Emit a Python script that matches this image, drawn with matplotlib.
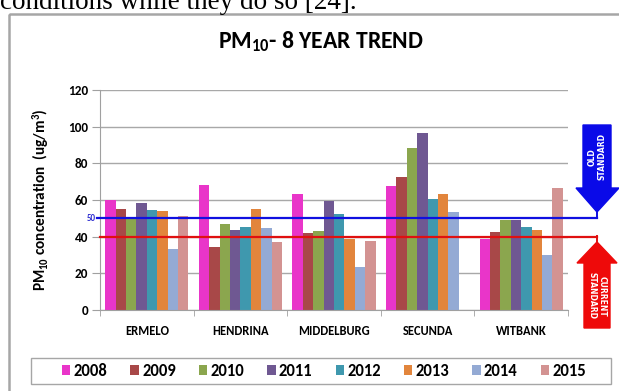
import numpy as np
import matplotlib
matplotlib.use("Agg")
import matplotlib.pyplot as plt
from matplotlib.patches import Polygon, Rectangle

plt.rcParams["font.family"] = ["Carlito", "DejaVu Sans"]
plt.rcParams["mathtext.default"] = "regular"

TOWNS = ["ERMELO", "HENDRINA", "MIDDELBURG", "SECUNDA", "WITBANK"]
YEARS = ["2008", "2009", "2010", "2011", "2012", "2013", "2014", "2015"]

# PM10 annual means per town, one list per year (ug/m3); Secunda has no 2015 value
PM10_2008 = [60.0, 68.4, 63.3, 67.8, 38.9]
PM10_2009 = [55.1, 34.5, 42.0, 72.5, 42.7]
PM10_2010 = [50.9, 46.9, 43.3, 88.2, 49.3]
PM10_2011 = [58.2, 43.8, 59.6, 96.7, 49.3]
PM10_2012 = [54.5, 45.1, 52.2, 60.7, 45.5]
PM10_2013 = [54.0, 55.3, 38.9, 63.3, 43.6]
PM10_2014 = [33.1, 44.7, 23.5, 53.5, 30.2]
PM10_2015 = [51.1, 37.1, 37.6, np.nan, 66.5]

OLD_STANDARD = 50
CURRENT_STANDARD = 40

YEAR_COLORS = ["#E935C9", "#A84848", "#8BA64E", "#6F5892", "#3F98AE",
               "#E2853C", "#94AAD4", "#D39392"]

series = [PM10_2008, PM10_2009, PM10_2010, PM10_2011,
          PM10_2012, PM10_2013, PM10_2014, PM10_2015]

W, H = 619, 391
fig = plt.figure(figsize=(W / 100, H / 100), dpi=100)

# overlay in pixel coordinates for the page frame, legend box and arrows
ov = fig.add_axes([0, 0, 1, 1], zorder=0)
ov.set_xlim(0, W)
ov.set_ylim(H, 0)
ov.axis("off")

ov.text(0, 9, "conditions while they do so [24].", fontsize=19.5,
        family="Liberation Serif", va="baseline", ha="left")
ov.add_patch(Rectangle((9, 14), W, H, fill=False, edgecolor="#A6A6A6", lw=1.8))
ov.add_patch(Rectangle((31, 358), 580, 26, fill=False, edgecolor="#A6A6A6", lw=1.0))

ax = fig.add_axes([100 / W, 1 - 310 / H, 468 / W, 220 / H], zorder=1)
ax.patch.set_alpha(0)

x = np.arange(len(TOWNS))
bw = 0.111
for i, (vals, year, col) in enumerate(zip(series, YEARS, YEAR_COLORS)):
    ax.bar(x + (i - 3.5) * bw, vals, width=bw, color=col, label=year, zorder=2)

ax.set_xlim(-0.5, len(TOWNS) - 0.5)
ax.set_ylim(0, 120)
ax.set_yticks(range(0, 121, 20))
ax.set_yticklabels([str(v) for v in range(0, 121, 20)], fontweight="bold", fontsize=9.5)
ax.set_xticks(x)
ax.set_xticklabels(TOWNS, fontweight="bold", fontsize=9)
ax.set_xticks(np.arange(-0.5, len(TOWNS)), minor=True)
ax.tick_params(axis="x", which="major", length=0, pad=11)
ax.tick_params(axis="x", which="minor", length=4, color="#A0A0A0")
ax.tick_params(axis="y", length=5.5, color="#A0A0A0", pad=3)
ax.grid(axis="y", color="#A8A8A8", lw=1.0, zorder=0)
for side in ("top", "right"):
    ax.spines[side].set_visible(False)
for side in ("left", "bottom"):
    ax.spines[side].set_color("#A0A0A0")

ax.set_ylabel("PM$_{10}$ concentration  (ug/m$^3$)", fontweight="bold",
              fontsize=11, labelpad=12)

# standard lines run out past the plot to the arrows
ytr = ax.get_yaxis_transform()
ax.plot([-0.006, 1.062], [OLD_STANDARD] * 2, color="#1010E0", lw=1.6,
        transform=ytr, clip_on=False, zorder=3)
ax.plot([0, 1.062], [CURRENT_STANDARD] * 2, color="#E01010", lw=1.6,
        transform=ytr, clip_on=False, zorder=3)
ax.text(-0.008, OLD_STANDARD, str(OLD_STANDARD), transform=ytr, color="#3030D0",
        fontsize=6.5, fontweight="bold", ha="right", va="center")

# arrows
blue_arrow = [(583, 125), (611, 125), (611, 188), (619, 188), (597, 212),
              (576, 188), (583, 188)]
red_arrow = [(597, 242), (617, 263), (610, 263), (610, 328), (584, 328),
             (584, 263), (577, 263)]
ov.add_patch(Polygon(blue_arrow, closed=True, color="#0A0AE8", zorder=2))
ov.add_patch(Polygon(red_arrow, closed=True, color="#EE0A0A", zorder=2))
ov.plot([597, 597], [212, 218], color="#1010E0", lw=1.4)
ov.plot([597, 597], [236, 242], color="#E01010", lw=1.4)
ov.text(597, 157, "OLD\nSTANDARD", rotation=90, color="white", fontsize=5.5,
        fontweight="bold", family="DejaVu Sans", ha="center", va="center",
        linespacing=1.05, zorder=3)
ov.text(597, 296, "CURRENT\nSTANDARD", rotation=-90, color="white", fontsize=5.5,
        fontweight="bold", family="DejaVu Sans", ha="center", va="center",
        linespacing=1.05, zorder=3)

fig.text(321 / W, 1 - 42 / H, "PM$_{10}$- 8 YEAR TREND", fontsize=17,
         fontweight="bold", ha="center", va="center")

handles, labels = ax.get_legend_handles_labels()
leg = fig.legend(handles, labels, loc="center", ncol=8,
                 bbox_to_anchor=(324 / W, 1 - 371 / H),
                 frameon=False, handlelength=0.5, handleheight=0.5,
                 handletextpad=0.2, columnspacing=1.38, borderpad=0.2,
                 prop={"weight": "bold", "size": 12})

fig.savefig("out.png", dpi=100)
